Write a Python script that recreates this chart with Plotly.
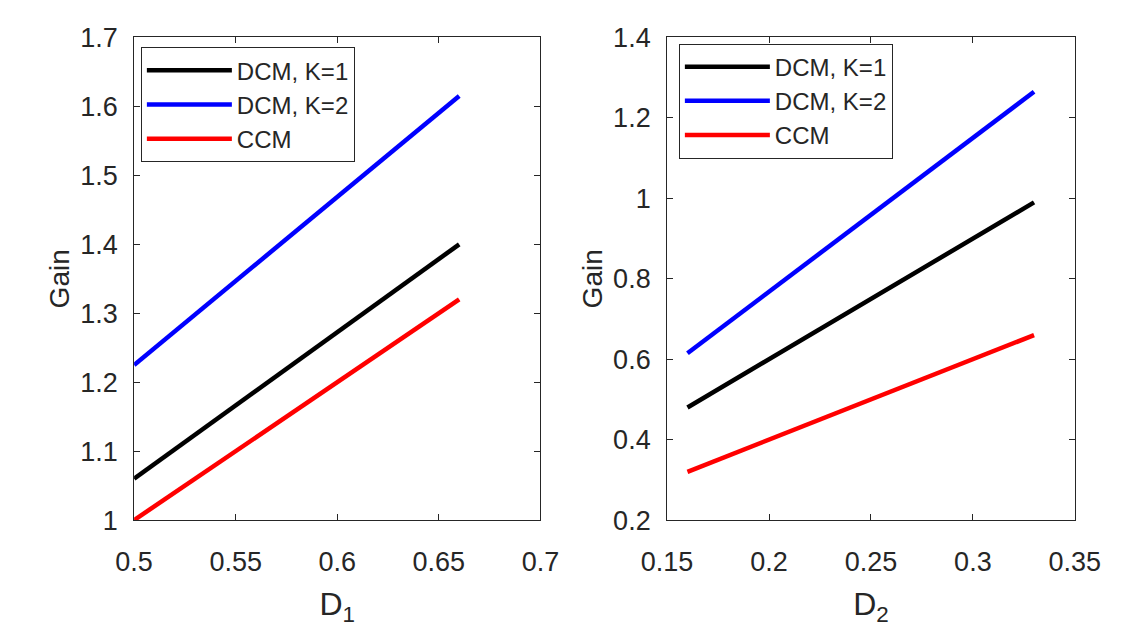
import plotly.graph_objects as go
from plotly.subplots import make_subplots

# Left panel data
d1 = [0.5, 0.66]
gain1_k1 = [1.06, 1.40]
gain1_k2 = [1.225, 1.615]
gain1_ccm = [1.0, 1.32]

# Right panel data
d2 = [0.16, 0.33]
gain2_k1 = [0.48, 0.99]
gain2_k2 = [0.615, 1.265]
gain2_ccm = [0.32, 0.66]

names = ["DCM, K=1", "DCM, K=2", "CCM"]
colors = ["#000000", "#0000ff", "#ff0000"]

fig = make_subplots(rows=1, cols=2)

for ys, nm, c in zip([gain1_k1, gain1_k2, gain1_ccm], names, colors):
    fig.add_trace(go.Scatter(x=d1, y=ys, mode="lines", name=nm,
                             line=dict(color=c, width=4.5), legend="legend"), row=1, col=1)
for ys, nm, c in zip([gain2_k1, gain2_k2, gain2_ccm], names, colors):
    fig.add_trace(go.Scatter(x=d2, y=ys, mode="lines", name=nm,
                             line=dict(color=c, width=4.5), legend="legend2"), row=1, col=2)

axis_common = dict(showgrid=False, zeroline=False, showline=True, linecolor="#262626",
                   linewidth=1, mirror="ticks", ticks="inside", ticklen=6,
                   tickcolor="#262626", tickfont=dict(size=27, color="#262626"))

fig.update_xaxes(ticklabelstandoff=18, **axis_common)
fig.update_yaxes(ticklabelstandoff=10, **axis_common)

fig.update_layout(
    xaxis=dict(domain=[0.0933, 0.472], range=[0.5, 0.7], dtick=0.05,
               title=dict(text="D<sub>1</sub>", font=dict(size=32, color="#262626"), standoff=16)),
    xaxis2=dict(domain=[0.590, 0.970], range=[0.15, 0.35], dtick=0.05,
                title=dict(text="D<sub>2</sub>", font=dict(size=32, color="#262626"), standoff=16)),
    yaxis=dict(domain=[0.177, 0.976], range=[1.0, 1.7], dtick=0.1,
               title=dict(text="Gain", font=dict(size=28, color="#262626"), standoff=2)),
    yaxis2=dict(domain=[0.177, 0.976], range=[0.2, 1.4], dtick=0.2,
                title=dict(text="Gain", font=dict(size=28, color="#262626"), standoff=2)),
    legend=dict(x=0.0996, y=0.96, xanchor="left", yanchor="top", bgcolor="white",
                bordercolor="#262626", borderwidth=1, font=dict(size=24, color="#262626"),
                itemwidth=85),
    legend2=dict(x=0.601, y=0.966, xanchor="left", yanchor="top", bgcolor="white",
                 bordercolor="#262626", borderwidth=1, font=dict(size=24, color="#262626"),
                 itemwidth=85),
    font=dict(family="Arial, Liberation Sans, sans-serif", color="#262626"),
    paper_bgcolor="white", plot_bgcolor="white",
    width=1125, height=634, margin=dict(l=0, r=0, t=0, b=0),
)

fig.write_html("out.html")
